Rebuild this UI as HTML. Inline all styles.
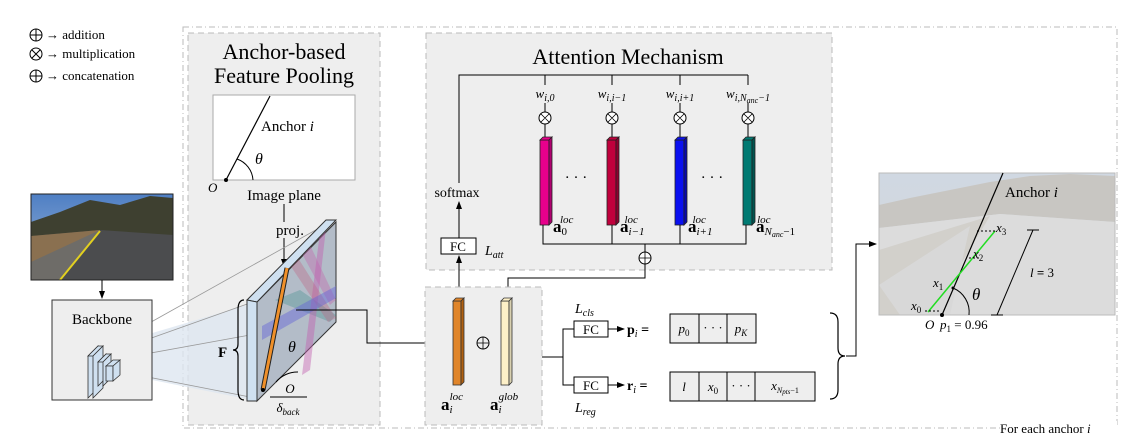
<!DOCTYPE html>
<html><head><meta charset="utf-8"><style>
html,body{margin:0;padding:0;background:#fff;}
svg{display:block;font-family:"Liberation Serif",serif;}
.i{font-style:italic}
</style></head><body>
<svg width="1124" height="439" viewBox="0 0 1124 439" xmlns="http://www.w3.org/2000/svg">
<defs>
<marker id="ar" markerWidth="8" markerHeight="8" refX="7" refY="4" orient="auto" markerUnits="userSpaceOnUse"><path d="M0,1 L8,4 L0,7 z" fill="#000"/></marker>
<linearGradient id="sky" x1="0" y1="0" x2="0" y2="1"><stop offset="0" stop-color="#4f7fc4"/><stop offset="1" stop-color="#9fb8d8"/></linearGradient>
<linearGradient id="rsky" x1="0" y1="0" x2="0" y2="1"><stop offset="0" stop-color="#d0d8e2"/><stop offset="1" stop-color="#d6d8da"/></linearGradient>
</defs>

<!-- legend -->
<g font-size="13">
<circle cx="36" cy="35" r="6" fill="none" stroke="#000"/><path d="M30,35h12M36,29v12" stroke="#000"/>
<text x="46" y="39">→ addition</text>
<circle cx="36" cy="54" r="6" fill="none" stroke="#000"/><path d="M32,50l8,8M40,50l-8,8" stroke="#000"/>
<text x="46" y="58">→ multiplication</text>
<circle cx="36" cy="76" r="6" fill="none" stroke="#000"/><path d="M30,76h12M36,70v12" stroke="#000"/>
<text x="46" y="80">→ concatenation</text>
</g>

<!-- outer dash-dot box -->
<rect x="183" y="27" width="934" height="401" fill="none" stroke="#bbb" stroke-dasharray="6,3,1,3"/>
<rect x="1000" y="421" width="117" height="14" fill="#fff"/>
<text x="1000" y="433" font-size="13">For each anchor <tspan class="i">i</tspan></text>

<!-- pooling box -->
<rect x="188" y="33" width="192" height="392" fill="#eee" stroke="#bbb" stroke-dasharray="6,4"/>
<text x="284" y="59" font-size="22" text-anchor="middle">Anchor-based</text>
<text x="284" y="83" font-size="22" text-anchor="middle">Feature Pooling</text>
<rect x="213" y="95" width="142" height="85" fill="#fff" stroke="#aaa"/>
<line x1="226" y1="180" x2="270" y2="96" stroke="#000" stroke-width="1.2"/>
<path d="M237,159 A24,24 0 0 1 253,180" fill="none" stroke="#000"/>
<circle cx="226" cy="180" r="2" fill="#000"/>
<text x="261" y="131" font-size="15">Anchor <tspan class="i">i</tspan></text>
<text x="255" y="164" font-size="16" class="i">θ</text>
<text x="208" y="192" font-size="13" class="i">O</text>
<text x="284" y="200" font-size="15" text-anchor="middle">Image plane</text>
<line x1="284" y1="204" x2="284" y2="266" stroke="#000" marker-end="url(#ar)"/>
<rect x="276" y="222" width="28" height="16" fill="#eee"/>
<text x="290" y="235" font-size="15" text-anchor="middle">proj.</text>

<!-- frustum -->
<polygon points="112,345 257,302 257,401 112,372" fill="#dde6f0" opacity="0.8"/>
<line x1="110" y1="345" x2="330" y2="222" stroke="#999" stroke-width="0.8"/>
<line x1="112" y1="352" x2="250" y2="303" stroke="#999" stroke-width="0.8"/>
<line x1="112" y1="360" x2="250" y2="335" stroke="#999" stroke-width="0.8"/>
<line x1="112" y1="370" x2="250" y2="397" stroke="#999" stroke-width="0.8"/>

<!-- feature map slab -->
<polygon points="257,302 336,222 336,322 257,401" fill="#b3bcc8" stroke="#333"/>
<polygon points="275,300 300,290 336,315 330,322" fill="#5a9a9a" opacity="0.45"/>
<polygon points="300,250 310,245 336,300 330,305" fill="#c070b0" opacity="0.45"/>
<polygon points="320,232 326,228 310,370 302,375" fill="#c060b0" opacity="0.45"/>
<polygon points="290,265 298,258 336,318 328,322" fill="#c06080" opacity="0.35"/>
<polygon points="262,326 336,286 336,298 262,340" fill="#6464d8" opacity="0.45"/>
<polygon points="247,300 326,220 336,220 257,302" fill="#cfe0f0" stroke="#333"/>
<polygon points="247,300 257,302 257,401 247,401" fill="#cfe0f0" stroke="#333"/>
<line x1="263" y1="390" x2="287" y2="268" stroke="#222" stroke-width="5"/>
<line x1="263" y1="390" x2="287" y2="268" stroke="#f0902a" stroke-width="3"/>
<circle cx="263" cy="390" r="2" fill="#000"/>
<path d="M276,382 A28,28 0 0 1 298,372" fill="none" stroke="#000"/>
<text x="288" y="352" font-size="16" class="i">θ</text>
<path d="M244,300 Q238,300 238,310 L238,344 Q238,350 233,350 Q238,350 238,356 L238,390 Q238,400 244,400" fill="none" stroke="#000" stroke-width="1.2"/>
<text x="218" y="357" font-size="15" font-weight="bold">F</text>
<text x="290" y="393" font-size="13" text-anchor="middle" class="i">O</text>
<line x1="270" y1="397" x2="307" y2="397" stroke="#000"/>
<text x="288" y="412" font-size="13" text-anchor="middle" class="i">δ<tspan font-size="9" dy="3">back</tspan></text>
<polyline points="296,310 367,310 367,343 452,343" fill="none" stroke="#000" marker-end="url(#ar)"/>

<!-- road image left -->
<rect x="31" y="194" width="142" height="86" fill="url(#sky)" stroke="#222"/>
<polygon points="31,222 60,212 90,200 120,205 150,196 173,198 173,240 31,236" fill="#3e4030"/>
<polygon points="31,236 100,230 173,235 173,280 31,280" fill="#4b4c4e"/>
<polygon points="31,236 100,230 70,250 31,262" fill="#8a7050"/>
<polygon points="31,262 100,230 60,280 31,280" fill="#6e6c68"/>
<line x1="60" y1="280" x2="100" y2="231" stroke="#e2d020" stroke-width="2"/>
<rect x="31" y="194" width="142" height="86" fill="none" stroke="#222"/>
<line x1="102" y1="280" x2="102" y2="298" stroke="#000" marker-end="url(#ar)"/>

<!-- backbone -->
<rect x="52" y="300" width="100" height="100" fill="#eee" stroke="#333"/>
<text x="102" y="324" font-size="15" text-anchor="middle">Backbone</text>
<g stroke="#333" stroke-width="0.8" fill="#cfe0f0">
<polygon points="88,356 98,346 98,388 88,398"/>
<polygon points="88,356 93,356 103,346 98,346"/>
<polygon points="93,356 103,346 103,388 93,398"/>
<polygon points="98,362 106,354 106,378 98,386"/>
<polygon points="98,362 103,362 111,354 106,354"/>
<polygon points="103,362 111,354 111,378 103,386"/>
<polygon points="106,366 113,360 120,360 113,366"/>
<polygon points="106,366 113,366 113,381 106,381"/>
<polygon points="113,366 120,360 120,375 113,381"/>
</g>

<!-- attention box -->
<rect x="426" y="33" width="406" height="237" fill="#eee" stroke="#bbb" stroke-dasharray="6,4"/>
<text x="628" y="64" font-size="22" text-anchor="middle">Attention Mechanism</text>
<polyline points="459,183 459,75 748,75" fill="none" stroke="#000"/>
<g stroke="#000" fill="none">
<line x1="545" y1="75" x2="545" y2="85"/><line x1="612" y1="75" x2="612" y2="85"/><line x1="680" y1="75" x2="680" y2="85"/><line x1="748" y1="75" x2="748" y2="85"/>
<line x1="545" y1="103" x2="545" y2="137"/><line x1="612" y1="103" x2="612" y2="137"/><line x1="680" y1="103" x2="680" y2="137"/><line x1="748" y1="103" x2="748" y2="137"/>
</g>
<g font-size="13" class="i" text-anchor="middle">
<text x="545" y="98">w<tspan font-size="10" dy="3">i,0</tspan></text>
<text x="612" y="98">w<tspan font-size="10" dy="3">i,i−1</tspan></text>
<text x="680" y="98">w<tspan font-size="10" dy="3">i,i+1</tspan></text>
<text x="748" y="98">w<tspan font-size="10" dy="3">i,N</tspan><tspan font-size="8" dy="2">anc</tspan><tspan font-size="10" dy="-2">−1</tspan></text>
</g>
<g fill="#fff" stroke="#000">
<circle cx="545" cy="118" r="6"/><circle cx="612" cy="118" r="6"/><circle cx="680" cy="118" r="6"/><circle cx="748" cy="118" r="6"/>
</g>
<g stroke="#000" stroke-width="0.8">
<path d="M541,114l8,8M549,114l-8,8M608,114l8,8M616,114l-8,8M676,114l8,8M684,114l-8,8M744,114l8,8M752,114l-8,8"/>
</g>
<g stroke="#222" stroke-width="0.8">
<rect x="540" y="140" width="9" height="85" fill="#e8008c"/><polygon points="540,140 543,137 552,137 549,140" fill="#e8008c"/><polygon points="549,140 552,137 552,222 549,225" fill="#b00070"/>
<rect x="607" y="140" width="9" height="85" fill="#c0003c"/><polygon points="607,140 610,137 619,137 616,140" fill="#c0003c"/><polygon points="616,140 619,137 619,222 616,225" fill="#900030"/>
<rect x="675" y="140" width="9" height="85" fill="#0a10f0"/><polygon points="675,140 678,137 687,137 684,140" fill="#0a10f0"/><polygon points="684,140 687,137 687,222 684,225" fill="#0808b0"/>
<rect x="743" y="140" width="9" height="85" fill="#007a72"/><polygon points="743,140 746,137 755,137 752,140" fill="#007a72"/><polygon points="752,140 755,137 755,222 752,225" fill="#005550"/>
</g>
<text x="576" y="182" font-size="15" text-anchor="middle">· · ·</text>
<text x="712" y="182" font-size="15" text-anchor="middle">· · ·</text>
<g font-size="17" font-weight="bold">
<text x="553" y="232">a<tspan font-size="11" dy="3" font-weight="normal">0</tspan><tspan class="i" font-size="11" dx="-7" dy="-12" font-weight="normal">loc</tspan></text>
<text x="620" y="232">a<tspan class="i" font-size="11" dy="3" font-weight="normal">i−1</tspan><tspan class="i" font-size="11" dx="-20" dy="-12" font-weight="normal">loc</tspan></text>
<text x="688" y="232">a<tspan class="i" font-size="11" dy="3" font-weight="normal">i+1</tspan><tspan class="i" font-size="11" dx="-20" dy="-12" font-weight="normal">loc</tspan></text>
<text x="756" y="232">a<tspan class="i" font-size="11" dy="3" font-weight="normal">N</tspan><tspan class="i" font-size="8" dy="2" font-weight="normal">anc</tspan><tspan font-size="11" dy="-2" font-weight="normal">−1</tspan><tspan class="i" font-size="11" dx="-38" dy="-12" font-weight="normal">loc</tspan></text>
</g>
<polyline points="543,225 543,244 746,244 746,225" fill="none" stroke="#000"/>
<line x1="612" y1="225" x2="612" y2="244" stroke="#000"/>
<line x1="680" y1="225" x2="680" y2="244" stroke="#000"/>
<line x1="645" y1="244" x2="645" y2="252" stroke="#000"/>
<circle cx="645" cy="258" r="6" fill="#fff" stroke="#000"/><path d="M639,258h12M645,252v12" stroke="#000" stroke-width="0.8"/>
<polyline points="645,264 645,278 508,278 508,296" fill="none" stroke="#000" marker-end="url(#ar)"/>
<text x="457" y="197" font-size="14" text-anchor="middle">softmax</text>
<line x1="459" y1="238" x2="459" y2="202" stroke="#000" marker-end="url(#ar)"/>
<rect x="441" y="238" width="35" height="16" fill="#fff" stroke="#000"/>
<text x="458" y="251" font-size="13" text-anchor="middle">FC</text>
<text x="485" y="255" font-size="14" class="i">L<tspan font-size="10" dy="3">att</tspan></text>
<line x1="459" y1="297" x2="459" y2="256" stroke="#000" marker-end="url(#ar)"/>

<!-- lower box -->
<rect x="425" y="287" width="117" height="138" fill="#eee" stroke="#bbb" stroke-dasharray="6,4"/>
<rect x="453" y="301" width="8" height="84" fill="#e0852a" stroke="#333" stroke-width="0.8"/>
<polygon points="453,301 456,298 464,298 461,301" fill="#e0852a" stroke="#333" stroke-width="0.8"/>
<polygon points="461,301 464,298 464,382 461,385" fill="#b06010" stroke="#333" stroke-width="0.8"/>
<rect x="501" y="301" width="8" height="84" fill="#fdf0c8" stroke="#333" stroke-width="0.8"/>
<polygon points="501,301 504,298 512,298 509,301" fill="#fdf0c8" stroke="#333" stroke-width="0.8"/>
<polygon points="509,301 512,298 512,382 509,385" fill="#d8d0b0" stroke="#333" stroke-width="0.8"/>
<circle cx="483" cy="343" r="6" fill="none" stroke="#000"/><path d="M477,343h12M483,337v12" stroke="#000" stroke-width="0.8"/>
<g font-size="17" font-weight="bold">
<text x="441" y="410">a<tspan class="i" font-size="11" dy="3" font-weight="normal">i</tspan><tspan class="i" font-size="11" dx="-3" dy="-13" font-weight="normal">loc</tspan></text>
<text x="490" y="410">a<tspan class="i" font-size="11" dy="3" font-weight="normal">i</tspan><tspan class="i" font-size="11" dx="-3" dy="-13" font-weight="normal">glob</tspan></text>
</g>

<!-- heads -->
<polyline points="542,357 563,357" fill="none" stroke="#000"/>
<polyline points="574,329 563,329 563,385 574,385" fill="none" stroke="#000"/>
<rect x="574" y="321" width="34" height="16" fill="#fff" stroke="#000"/>
<text x="591" y="334" font-size="13" text-anchor="middle">FC</text>
<rect x="574" y="377" width="34" height="16" fill="#fff" stroke="#000"/>
<text x="591" y="390" font-size="13" text-anchor="middle">FC</text>
<line x1="608" y1="329" x2="624" y2="329" stroke="#000" marker-end="url(#ar)"/>
<line x1="608" y1="385" x2="624" y2="385" stroke="#000" marker-end="url(#ar)"/>
<text x="575" y="313" font-size="14" class="i">L<tspan font-size="10" dy="3">cls</tspan></text>
<text x="575" y="412" font-size="14" class="i">L<tspan font-size="10" dy="3">reg</tspan></text>
<text x="627" y="334" font-size="14" font-weight="bold">p<tspan class="i" font-size="10" dy="3" font-weight="normal">i</tspan><tspan dy="-3"> =</tspan></text>
<text x="627" y="390" font-size="14" font-weight="bold">r<tspan class="i" font-size="10" dy="3" font-weight="normal">i</tspan><tspan dy="-3"> =</tspan></text>
<g fill="#eee" stroke="#000">
<rect x="670" y="314" width="29" height="29"/><rect x="699" y="314" width="28" height="29"/><rect x="727" y="314" width="29" height="29"/>
<rect x="670" y="372" width="29" height="29"/><rect x="699" y="372" width="28" height="29"/><rect x="727" y="372" width="28" height="29"/><rect x="755" y="372" width="60" height="29"/>
</g>
<g font-size="13" text-anchor="middle">
<text x="684" y="333" class="i">p<tspan font-size="9" dy="3" font-style="normal">0</tspan></text>
<text x="713" y="332">· · ·</text>
<text x="741" y="333" class="i">p<tspan font-size="9" dy="3">K</tspan></text>
<text x="684" y="391" class="i">l</text>
<text x="713" y="391" class="i">x<tspan font-size="9" dy="3" font-style="normal">0</tspan></text>
<text x="741" y="390">· · ·</text>
<text x="785" y="390" class="i">x<tspan font-size="8" dy="3">N</tspan><tspan font-size="7" dy="1">pts</tspan><tspan font-size="8" dy="-1" font-style="normal">−1</tspan></text>
</g>
<path d="M830,313 Q838,313 838,322 L838,348 Q838,356 845,356 Q838,356 838,364 L838,390 Q838,399 830,399" fill="none" stroke="#000" stroke-width="1.2"/>
<polyline points="846,356 856,356 856,244 876,244" fill="none" stroke="#000" marker-end="url(#ar)"/>

<!-- right image (faded) -->
<rect x="879" y="173" width="236" height="142" fill="url(#rsky)" stroke="#bbb"/>
<polygon points="879,205 910,198 950,190 990,182 1030,176 1070,174 1115,176 1115,222 1000,214 879,228" fill="#c8c6c2"/>
<polygon points="879,228 1000,214 1115,222 1115,315 879,315" fill="#dcdcdc"/>
<polygon points="879,250 990,216 930,315 879,315" fill="#d2d0cb"/>
<polygon points="879,285 970,226 950,315 900,315" fill="#d8d8d8"/>
<rect x="879" y="173" width="236" height="142" fill="none" stroke="#bbb"/>
<line x1="1003" y1="173" x2="942" y2="315" stroke="#000" stroke-width="1.2"/>
<line x1="928" y1="312" x2="995" y2="231" stroke="#22dd22" stroke-width="1.5"/>
<path d="M977,231h18M969,258h10M925,311h16" stroke="#000" stroke-dasharray="2,2"/>
<circle cx="942" cy="315" r="2" fill="#000"/><circle cx="953" cy="288" r="1.5" fill="#000"/>
<path d="M953,288 A26,26 0 0 1 969,315" fill="none" stroke="#000"/>
<line x1="1033" y1="230" x2="997" y2="315" stroke="#000"/>
<path d="M1027,230h12M991,315h12" stroke="#000"/>
<text x="1005" y="197" font-size="15">Anchor <tspan class="i">i</tspan></text>
<g font-size="13" class="i">
<text x="996" y="232">x<tspan font-size="9" dy="3" font-style="normal">3</tspan></text>
<text x="973" y="258">x<tspan font-size="9" dy="3" font-style="normal">2</tspan></text>
<text x="933" y="287">x<tspan font-size="9" dy="3" font-style="normal">1</tspan></text>
<text x="911" y="310">x<tspan font-size="9" dy="3" font-style="normal">0</tspan></text>
<text x="1030" y="277">l <tspan font-style="normal" font-weight="bold">=</tspan><tspan font-style="normal"> 3</tspan></text>
<text x="972" y="300" font-size="17">θ</text>
<text x="925" y="329">O</text>
<text x="940" y="329">p<tspan font-size="9" dy="3" font-style="normal">1</tspan><tspan font-style="normal" dy="-3"> = 0.96</tspan></text>
</g>
</svg>
</body></html>
